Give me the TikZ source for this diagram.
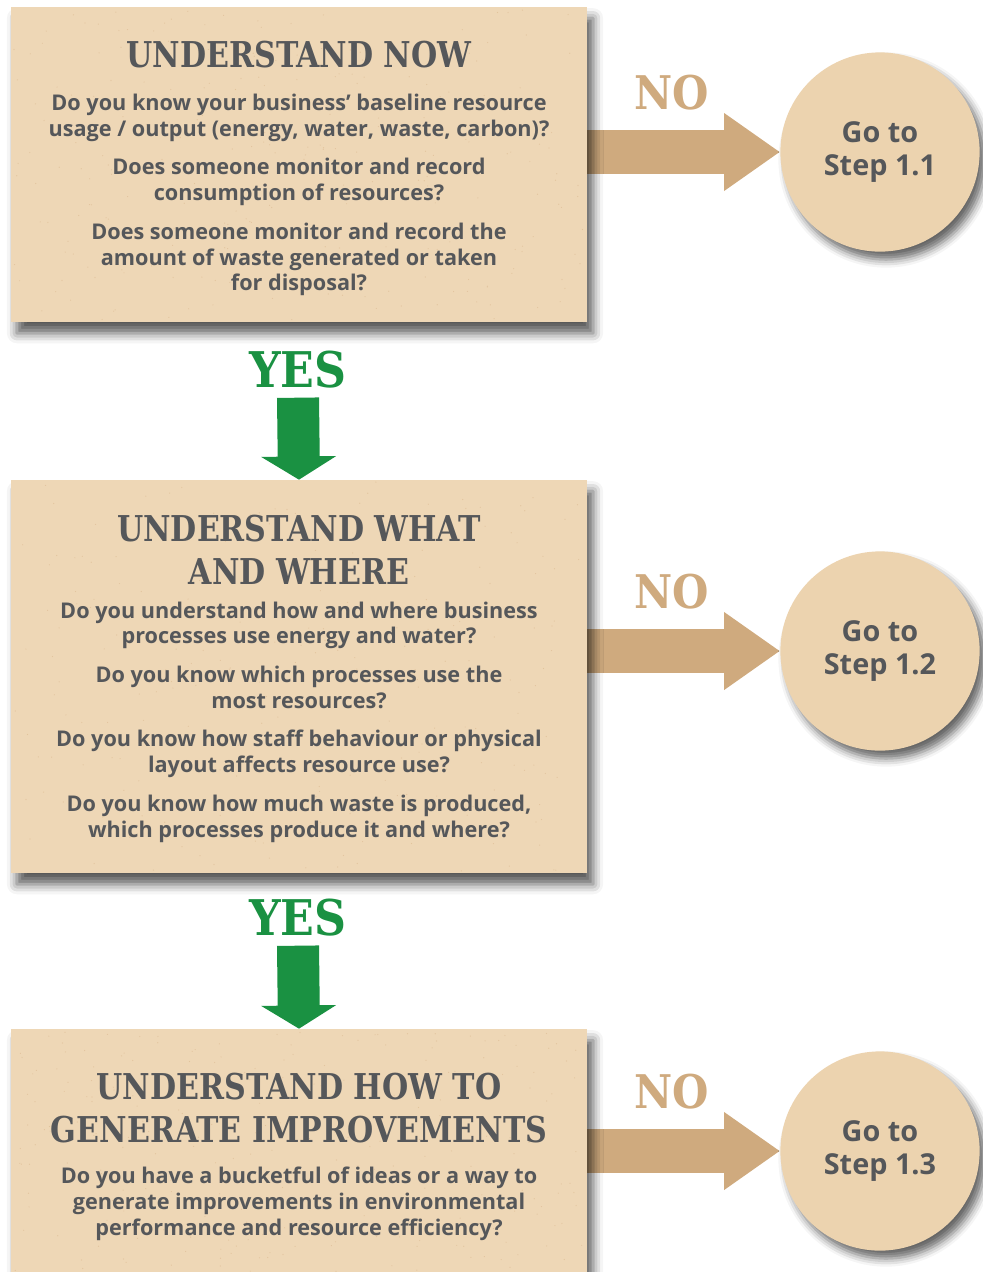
\documentclass[tikz,border=0pt]{standalone}
\usepackage{fontspec}
\setmainfont{Open Sans}
\newfontfamily\stencil{DejaVu Serif Condensed}
\newfontfamily\headfont{DejaVu Serif Condensed}[FakeStretch=0.94]
\usetikzlibrary{arrows.meta,shadows.blur,backgrounds}

\definecolor{paper}{RGB}{238,215,182}
\definecolor{cork}{RGB}{236,211,175}
\definecolor{kraft}{RGB}{207,170,126}
\definecolor{ink}{RGB}{85,87,90}
\definecolor{go}{RGB}{26,145,66}

\begin{document}
\begin{tikzpicture}[x=0.025cm,y=-0.025cm,
	card/.style={rectangle,fill=paper,minimum width=14.4cm,inner sep=0pt,
		blur shadow={shadow xshift=0.15cm,shadow yshift=-0.28cm,shadow blur radius=0.25cm,shadow opacity=65}},
	disc/.style={circle,fill=cork,minimum size=4.98cm,inner sep=0pt,align=center,text=ink,
		font=\bfseries\fontsize{20.5}{23.5}\selectfont,
		blur shadow={shadow xshift=0.15cm,shadow yshift=-0.2cm,shadow blur radius=0.2cm,shadow opacity=60}},
	head/.style={text=ink,align=center,font=\headfont\bfseries\fontsize{25.3}{30.5}\selectfont},
	ask/.style={text=ink,align=center,font=\bfseries\fontsize{15.4}{18.4}\selectfont},
	nolabel/.style={text=kraft,inner sep=0pt,font=\stencil\bfseries\fontsize{33}{33}\selectfont},
	yeslabel/.style={text=go,inner sep=0pt,font=\stencil\bfseries\fontsize{35}{35}\selectfont},
	noarrow/.style={draw=kraft,line width=1.1cm,-{Triangle[width=1.85cm,length=1.4cm]}},
	yesarrow/.style={draw=go,line width=1.05cm,-{Triangle[width=1.85cm,length=0.58cm]}}]
	\useasboundingbox (0,0) rectangle (983,1272);

	% the three question cards
	\node[card,minimum height=7.875cm] (box1) at (299,164.5) {};
	\node[card,minimum height=9.825cm] (box2) at (299,676.5) {};
	\node[card,minimum height=10cm] (box3) at (299,1229) {};

	% some grain on the paper
	\pgfmathsetseed{7}
	\foreach \b/\top/\bot in {box1/9/320,box2/482/871,box3/1031/1272}
		\foreach \i in {1,...,260}
			\fill[kraft!80!brown,opacity=0.35]
				({rnd*570+14},{rnd*(\bot-\top)+\top}) circle (0.6);

	\node[head] (head1) at (299,55) {UNDERSTAND NOW};
	\node[ask] (ask1) at (299,195) {Do you know your business’ baseline resource\\
		usage / output (energy, water, waste, carbon)?\\[9pt]
		Does someone monitor and record\\ consumption of resources?\\[9pt]
		Does someone monitor and record the\\ amount of waste generated or taken\\ for disposal?};

	\node[head] (head2) at (299,550) {UNDERSTAND WHAT\\ AND WHERE};
	\node[ask] (ask2) at (299,722) {Do you understand how and where business\\
		processes use energy and water?\\[9pt]
		Do you know which processes use the\\ most resources?\\[9pt]
		Do you know how staff behaviour or physical\\ layout affects resource use?\\[9pt]
		Do you know how much waste is produced,\\ which processes produce it and where?};

	\node[head] (head3) at (299,1108) {UNDERSTAND HOW TO\\ GENERATE IMPROVEMENTS};
	\node[ask] (ask3) at (299,1204) {Do you have a bucketful of ideas or a way to\\
		generate improvements in environmental\\ performance and resource efficiency?};

	% where a NO leads
	\node[disc] (step1) at (880,152) {Go to\\ Step 1.1};
	\node[disc] (step2) at (880,651) {Go to\\ Step 1.2};
	\node[disc] (step3) at (880,1151) {Go to\\ Step 1.3};

	\node[nolabel] (no1) at (672,93) {NO};
	\node[nolabel] (no2) at (672,592) {NO};
	\node[nolabel] (no3) at (672,1092) {NO};
	\node[yeslabel] (yes1) at (298,370) {YES};
	\node[yeslabel] (yes2) at (298,918) {YES};

	\begin{scope}[on background layer]
		\draw[noarrow] (box1.east |- step1.west) -- (step1.west);
		\draw[noarrow] (box2.east |- step2.west) -- (step2.west);
		\draw[noarrow] (box3.east |- step3.west) -- (step3.west);
		\draw[yesarrow] ([yshift=-0.22cm]yes1.south) -- (box2.north);
		\draw[yesarrow] ([yshift=-0.22cm]yes2.south) -- (box3.north);
	\end{scope}
\end{tikzpicture}
\end{document}
